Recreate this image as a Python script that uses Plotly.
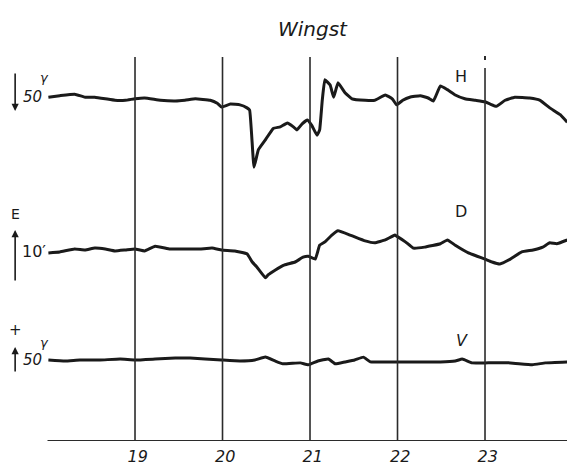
import plotly.graph_objects as go

# ---------------- data ----------------
# U.T. hours and deflections; H and V in gamma, D in minutes of arc
hours_H = [18.01, 18.14, 18.31, 18.43, 18.54, 18.66, 18.77, 18.89, 19.00, 19.11,
           19.29, 19.46, 19.57, 19.69, 19.86, 19.94, 19.99, 20.09, 20.20, 20.28,
           20.31, 20.36, 20.41, 20.49, 20.58, 20.66, 20.74, 20.81, 20.85, 20.91,
           20.97, 21.02, 21.08, 21.11, 21.14, 21.17, 21.23, 21.27, 21.32, 21.40,
           21.48, 21.63, 21.74, 21.86, 21.94, 21.99, 22.06, 22.14, 22.26, 22.35,
           22.41, 22.49, 22.57, 22.66, 22.77, 22.89, 23.00, 23.06, 23.13, 23.23,
           23.34, 23.51, 23.63, 23.74, 23.86, 23.94]
H_gamma = [1, 3, 5, 1, 1, -1, -3, -3, -1, 0,
           -3, -4, -3, -1, -3, -7, -12, -8, -9, -13,
           -16, -91, -68, -55, -40, -38, -33, -38, -42, -34,
           -29, -36, -49, -42, -3, 24, 17, 1, 20, 7,
           -1, -3, -3, 4, -1, -9, -3, 1, 3, 0,
           -4, 16, 11, 4, -1, -3, -5, -8, -11, -3,
           1, 0, -3, -13, -22, -32]

hours_D = [18.01, 18.14, 18.31, 18.43, 18.54, 18.66, 18.77, 18.89, 19.00, 19.11,
           19.23, 19.40, 19.57, 19.74, 19.88, 19.99, 20.14, 20.28, 20.34, 20.39,
           20.49, 20.52, 20.60, 20.71, 20.83, 20.92, 20.98, 21.06, 21.11, 21.17,
           21.25, 21.32, 21.46, 21.63, 21.74, 21.86, 21.97, 21.99, 22.09, 22.18,
           22.31, 22.49, 22.57, 22.66, 22.81, 22.91, 23.00, 23.08, 23.17, 23.29,
           23.42, 23.55, 23.66, 23.74, 23.82, 23.94]
D_arcmin = [-0.6, -0.4, 0.2, 0.0, 0.4, 0.2, -0.2, 0.0, 0.2, -0.2,
            0.8, 0.2, 0.2, 0.2, 0.4, 0.0, -0.2, -0.8, -2.5, -3.5,
            -5.8, -5.2, -4.2, -3.1, -2.5, -1.5, -1.3, -1.9, 1.0, 1.7,
            3.1, 4.0, 3.1, 1.9, 1.5, 2.1, 3.1, 2.9, 1.7, 0.4,
            0.6, 1.3, 2.1, 1.0, -0.6, -1.3, -1.9, -2.5, -2.9, -1.9,
            -0.4, 0.0, 0.6, 1.5, 1.3, 2.1]

hours_V = [18.01, 18.20, 18.37, 18.60, 18.83, 19.00, 19.23, 19.46, 19.63, 19.80,
           19.99, 20.20, 20.37, 20.49, 20.60, 20.69, 20.89, 20.98, 21.09, 21.21,
           21.29, 21.40, 21.51, 21.61, 21.69, 21.86, 22.03, 22.26, 22.49, 22.66,
           22.74, 22.85, 23.00, 23.29, 23.54, 23.69, 23.94]
V_gamma = [0, -2, 0, 0, 2, 0, 2, 4, 4, 2,
           0, -2, 0, 6, -2, -8, -6, -10, -2, 2,
           -8, -4, 0, 6, -4, -4, -4, -4, -4, -2,
           2, -6, -6, -6, -10, -6, -4]

tick_hours = [19, 20, 21, 22, 23]
tick_labels = ["19", "20", "21", "22", "23"]

# ---------------- layout constants (chart rows, top = 0) ----------------
H_base, H_scale = 98, 38 / 50
D_base, D_scale = 250, 4.8
V_base, V_scale = 360, 0.48
INK = "#1a1a1a"
GRID = "#2b2b2b"
FONT = "DejaVu Sans"

def place(vals, base, scale):
    return [base - v * scale for v in vals]

fig = go.Figure()
for hrs, vals, base, scale in [(hours_H, H_gamma, H_base, H_scale),
                               (hours_D, D_arcmin, D_base, D_scale),
                               (hours_V, V_gamma, V_base, V_scale)]:
    fig.add_trace(go.Scatter(x=hrs, y=place(vals, base, scale), mode="lines",
                             line=dict(color=INK, width=3, shape="spline", smoothing=0.3),
                             hoverinfo="skip", showlegend=False))

shapes = []
for h in tick_hours:
    top = 68 if h == 23 else 57
    shapes.append(dict(type="line", xref="x", yref="y", x0=h, x1=h, y0=top, y1=441,
                       line=dict(color=GRID, width=1.6)))
shapes.append(dict(type="line", xref="x", yref="y", x0=23, x1=23, y0=56, y1=60,
                   line=dict(color=GRID, width=2)))
shapes.append(dict(type="line", xref="x", yref="y", x0=18.0, x1=23.94, y0=441, y1=441,
                   line=dict(color=GRID, width=2)))

XL = 17.63  # scale-bar column
ann = []
def txt(x, y, s, size, italic=False):
    ann.append(dict(x=x, y=y, xref="x", yref="y", text=("<i>%s</i>" % s) if italic else s,
                    showarrow=False, font=dict(family=FONT, size=size, color=INK)))
def bar(x, y_head, y_tail):
    ann.append(dict(x=x, y=y_head, ax=x, ay=y_tail, xref="x", yref="y", axref="x", ayref="y",
                    text="", showarrow=True, arrowhead=2, arrowsize=0.9, arrowwidth=1.6,
                    arrowcolor=INK))

txt(21.03, 29, "Wingst", 20, italic=True)
txt(22.73, 76, "H", 16)
txt(22.72, 211, "D", 16)
txt(22.74, 340, "V", 16, italic=True)

bar(XL, 111, 72)
txt(17.83, 97, "50", 15, italic=True)
txt(17.97, 77, "γ", 13, italic=True)

txt(XL, 214, "E", 14)
bar(XL, 230, 282)
txt(17.85, 251, "10′", 16)

txt(XL, 330, "+", 15)
bar(XL, 347, 373)
txt(17.83, 360, "50", 15, italic=True)
txt(17.97, 342, "γ", 13, italic=True)

txt(18.46, 457, "U.T.", 15)

fig.update_layout(
    width=567, height=471,
    margin=dict(l=0, r=0, t=0, b=30),
    paper_bgcolor="white", plot_bgcolor="white",
    xaxis=dict(range=[17.457, 23.937], showgrid=False, zeroline=False, showline=False,
               tickvals=[h + 0.03 for h in tick_hours],
               ticktext=["<i>%s</i>" % t for t in tick_labels],
               ticks="", ticklabelstandoff=4,
               tickfont=dict(family=FONT, size=16, color=INK)),
    yaxis=dict(range=[441, 0], visible=False),
    shapes=shapes, annotations=ann,
)

fig.write_html("out.html", config={"displayModeBar": False},
               post_script="document.body.style.margin='0';")
